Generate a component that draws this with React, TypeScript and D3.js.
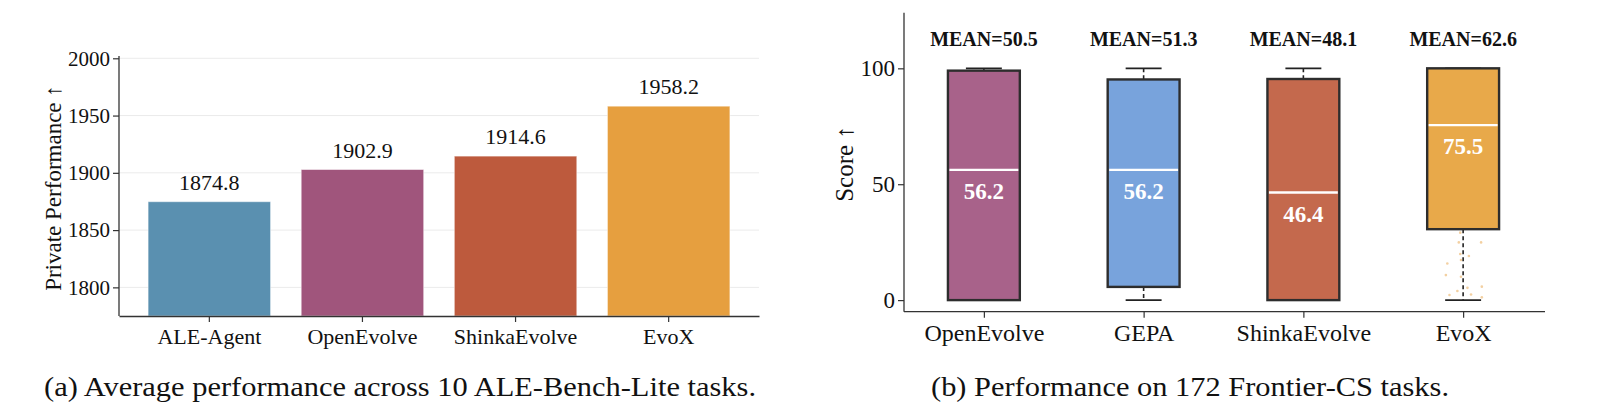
import { useEffect, useRef } from 'react';
import * as d3 from 'd3';

// (a) ALE-Bench-Lite average private performance
const aleMethods = ['ALE-Agent', 'OpenEvolve', 'ShinkaEvolve', 'EvoX'];
const aleScores = [1874.8, 1902.9, 1914.6, 1958.2];
const aleColors = ['#5a90b0', '#a0557c', '#bd5a3d', '#e69f3f'];
const aleTicks = [1800, 1850, 1900, 1950, 2000];

// (b) Frontier-CS score distribution
const csMethods = ['OpenEvolve', 'GEPA', 'ShinkaEvolve', 'EvoX'];
const csMeans = [50.5, 51.3, 48.1, 62.6];
const csMedians = [56.2, 56.2, 46.4, 75.5];
const csQ1 = [0, 5.7, 0, 30.6];
const csQ3 = [99.0, 95.2, 95.4, 100];
const csWhiskerLow = [0, 0, 0, 0];
const csWhiskerHigh = [100, 100, 100, 100];
const csColors = ['#a8628a', '#78a3dc', '#c4694d', '#e8a94a'];
const csTicks = [0, 50, 100];

// faint points visible below the EvoX box: [score, jitter]
const evoxLowPoints: [number, number][] = [
  [29.1, -0.04], [24.9, -0.06], [24.9, 0.25], [19.9, -0.04], [19.0, 0.08],
  [17.3, -0.03], [15.8, -0.22], [10.8, -0.24], [10.1, -0.03], [5.8, 0.26],
  [5.3, 0.06], [3.9, -0.08], [2.4, 0.11], [2.2, -0.19], [1.2, 0.26],
];

const W = 1602;
const H = 420;
const serif = '"Liberation Serif", "DejaVu Serif", serif';
const axisColor = '#333333';

const App = () => {
  const svgRef = useRef<SVGSVGElement>(null);

  useEffect(() => {
    if (!svgRef.current) return;
    const svg = d3.select(svgRef.current);
    svg.selectAll('*').remove();

    // ---------- left panel: bar chart ----------
    const left = svg.append('g');
    const x1 = d3.scaleBand<string>()
      .domain(aleMethods)
      .range([119, 759])
      .paddingInner(0.2)
      .paddingOuter(0.19);
    const y1 = d3.scaleLinear().domain([1775, 2002]).range([316, 56]);

    // gridlines
    left.selectAll('.grid')
      .data(aleTicks)
      .enter()
      .append('line')
      .attr('x1', 119)
      .attr('x2', 759)
      .attr('y1', d => y1(d))
      .attr('y2', d => y1(d))
      .attr('stroke', '#ebebeb')
      .attr('stroke-width', 1);

    left.selectAll('.bar')
      .data(aleMethods)
      .enter()
      .append('rect')
      .attr('x', d => x1(d)!)
      .attr('y', (d, i) => y1(aleScores[i]))
      .attr('width', x1.bandwidth())
      .attr('height', (d, i) => y1(1775) - y1(aleScores[i]))
      .attr('fill', (d, i) => aleColors[i])
      .attr('stroke', 'rgba(255,255,255,0.5)')
      .attr('stroke-width', 1);

    left.selectAll('.val')
      .data(aleMethods)
      .enter()
      .append('text')
      .attr('x', d => x1(d)! + x1.bandwidth() / 2)
      .attr('y', (d, i) => y1(aleScores[i]) - 12)
      .attr('text-anchor', 'middle')
      .style('font-family', serif)
      .style('font-size', '22px')
      .style('fill', '#111')
      .text((d, i) => aleScores[i].toFixed(1));

    const yAxis1 = left.append('g')
      .attr('transform', 'translate(119,0)')
      .call(d3.axisLeft(y1).tickValues(aleTicks).tickSize(6).tickPadding(3).tickFormat(d3.format('d')));
    yAxis1.select('.domain').attr('stroke', axisColor).attr('stroke-width', 1.3).attr('d', 'M0,56V316');
    yAxis1.selectAll('.tick line').attr('stroke', axisColor).attr('stroke-width', 1.2);
    yAxis1.selectAll('.tick text')
      .style('font-family', serif)
      .style('font-size', '21px')
      .style('fill', '#111');

    const xAxis1 = left.append('g')
      .attr('transform', 'translate(0,316)')
      .call(d3.axisBottom(x1).tickSize(6).tickPadding(6).tickSizeOuter(0));
    xAxis1.select('.domain').attr('stroke', axisColor).attr('stroke-width', 1.3);
    xAxis1.selectAll('.tick line').attr('stroke', axisColor).attr('stroke-width', 1.2);
    xAxis1.selectAll('.tick text')
      .style('font-family', serif)
      .style('font-size', '22px')
      .style('fill', '#111');

    left.append('text')
      .attr('transform', 'translate(61,188) rotate(-90)')
      .attr('text-anchor', 'middle')
      .style('font-family', serif)
      .style('font-size', '23px')
      .style('fill', '#111')
      .text('Private Performance ↑');

    left.append('text')
      .attr('x', 400)
      .attr('y', 396)
      .attr('text-anchor', 'middle')
      .attr('textLength', 712)
      .attr('lengthAdjust', 'spacingAndGlyphs')
      .style('font-family', serif)
      .style('font-size', '28px')
      .style('fill', '#111')
      .text('(a) Average performance across 10 ALE-Bench-Lite tasks.');

    // ---------- right panel: box plot ----------
    const right = svg.append('g');
    const x2 = d3.scalePoint<string>().domain(csMethods).range([904, 1543]).padding(0.5);
    const y2 = d3.scaleLinear().domain([-5, 124]).range([311.7, 12.7]);
    const boxW = x2.step() * 0.45;
    const capW = boxW / 2;

    const boxes = right.selectAll('.box')
      .data(csMethods)
      .enter()
      .append('g')
      .attr('transform', d => `translate(${x2(d)},0)`);

    // whiskers
    boxes.append('line')
      .attr('x1', 0).attr('x2', 0)
      .attr('y1', (d, i) => y2(csWhiskerHigh[i]))
      .attr('y2', (d, i) => y2(csQ3[i]))
      .attr('stroke', '#222').attr('stroke-width', 1.6).attr('stroke-dasharray', '4,3');
    boxes.append('line')
      .attr('x1', 0).attr('x2', 0)
      .attr('y1', (d, i) => y2(csQ1[i]))
      .attr('y2', (d, i) => y2(csWhiskerLow[i]))
      .attr('stroke', '#222').attr('stroke-width', 1.6).attr('stroke-dasharray', '4,3');
    // caps
    boxes.append('line')
      .attr('x1', -capW / 2).attr('x2', capW / 2)
      .attr('y1', (d, i) => y2(csWhiskerHigh[i]))
      .attr('y2', (d, i) => y2(csWhiskerHigh[i]))
      .attr('stroke', '#222').attr('stroke-width', 1.6);
    boxes.append('line')
      .attr('x1', -capW / 2).attr('x2', capW / 2)
      .attr('y1', (d, i) => y2(csWhiskerLow[i]))
      .attr('y2', (d, i) => y2(csWhiskerLow[i]))
      .attr('stroke', '#222').attr('stroke-width', 1.6);

    // box
    boxes.append('rect')
      .attr('x', -boxW / 2)
      .attr('width', boxW)
      .attr('y', (d, i) => y2(csQ3[i]))
      .attr('height', (d, i) => y2(csQ1[i]) - y2(csQ3[i]))
      .attr('fill', (d, i) => csColors[i])
      .attr('stroke', '#2d2d2d')
      .attr('stroke-width', 2.4);

    // median
    boxes.append('line')
      .attr('x1', -boxW / 2 + 1.5).attr('x2', boxW / 2 - 1.5)
      .attr('y1', (d, i) => y2(csMedians[i]))
      .attr('y2', (d, i) => y2(csMedians[i]))
      .attr('stroke', '#ffffff').attr('stroke-width', 2.4);

    boxes.append('text')
      .attr('x', 0)
      .attr('y', (d, i) => y2(csMedians[i]) + 29)
      .attr('text-anchor', 'middle')
      .style('font-family', serif)
      .style('font-weight', 'bold')
      .style('font-size', '23px')
      .style('fill', '#ffffff')
      .text((d, i) => csMedians[i].toFixed(1));

    boxes.append('text')
      .attr('x', 0)
      .attr('y', 45.5)
      .attr('text-anchor', 'middle')
      .style('font-family', serif)
      .style('font-weight', 'bold')
      .style('font-size', '20px')
      .style('fill', '#111')
      .text((d, i) => `MEAN=${csMeans[i].toFixed(1)}`);

    // faint EvoX points
    const evoxX = x2('EvoX')!;
    right.selectAll('.pt')
      .data(evoxLowPoints)
      .enter()
      .append('circle')
      .attr('cx', d => evoxX + d[1] * boxW)
      .attr('cy', d => y2(d[0]))
      .attr('r', 1.3)
      .attr('fill', '#f0c48a')
      .attr('opacity', 0.8);

    const yAxis2 = right.append('g')
      .attr('transform', 'translate(904,0)')
      .call(d3.axisLeft(y2).tickValues(csTicks).tickSize(6).tickPadding(3));
    yAxis2.select('.domain').attr('stroke', axisColor).attr('stroke-width', 1.3).attr('d', 'M0,12.7V311.7');
    yAxis2.selectAll('.tick line').attr('stroke', axisColor).attr('stroke-width', 1.2);
    yAxis2.selectAll('.tick text')
      .style('font-family', serif)
      .style('font-size', '23px')
      .style('fill', '#111');

    const xAxis2 = right.append('g')
      .attr('transform', 'translate(0,311.7)')
      .call(d3.axisBottom(x2).tickSize(6).tickPadding(6).tickSizeOuter(0));
    xAxis2.select('.domain').attr('stroke', axisColor).attr('stroke-width', 1.3).attr('d', 'M904,0H1545');
    xAxis2.selectAll('.tick line').attr('stroke', axisColor).attr('stroke-width', 1.2);
    xAxis2.selectAll('.tick text')
      .style('font-family', serif)
      .style('font-size', '24px')
      .style('fill', '#111');

    right.append('text')
      .attr('transform', 'translate(853,164) rotate(-90)')
      .attr('text-anchor', 'middle')
      .style('font-family', serif)
      .style('font-size', '25px')
      .style('fill', '#111')
      .text('Score ↑');

    right.append('text')
      .attr('x', 1190)
      .attr('y', 396)
      .attr('text-anchor', 'middle')
      .attr('textLength', 518)
      .attr('lengthAdjust', 'spacingAndGlyphs')
      .style('font-family', serif)
      .style('font-size', '28px')
      .style('fill', '#111')
      .text('(b) Performance on 172 Frontier-CS tasks.');
  }, []);

  return (
    <svg
      ref={svgRef}
      width={W}
      height={H}
      style={{ position: 'absolute', left: 0, top: 0, background: '#fff' }}
    />
  );
};

export default App;
